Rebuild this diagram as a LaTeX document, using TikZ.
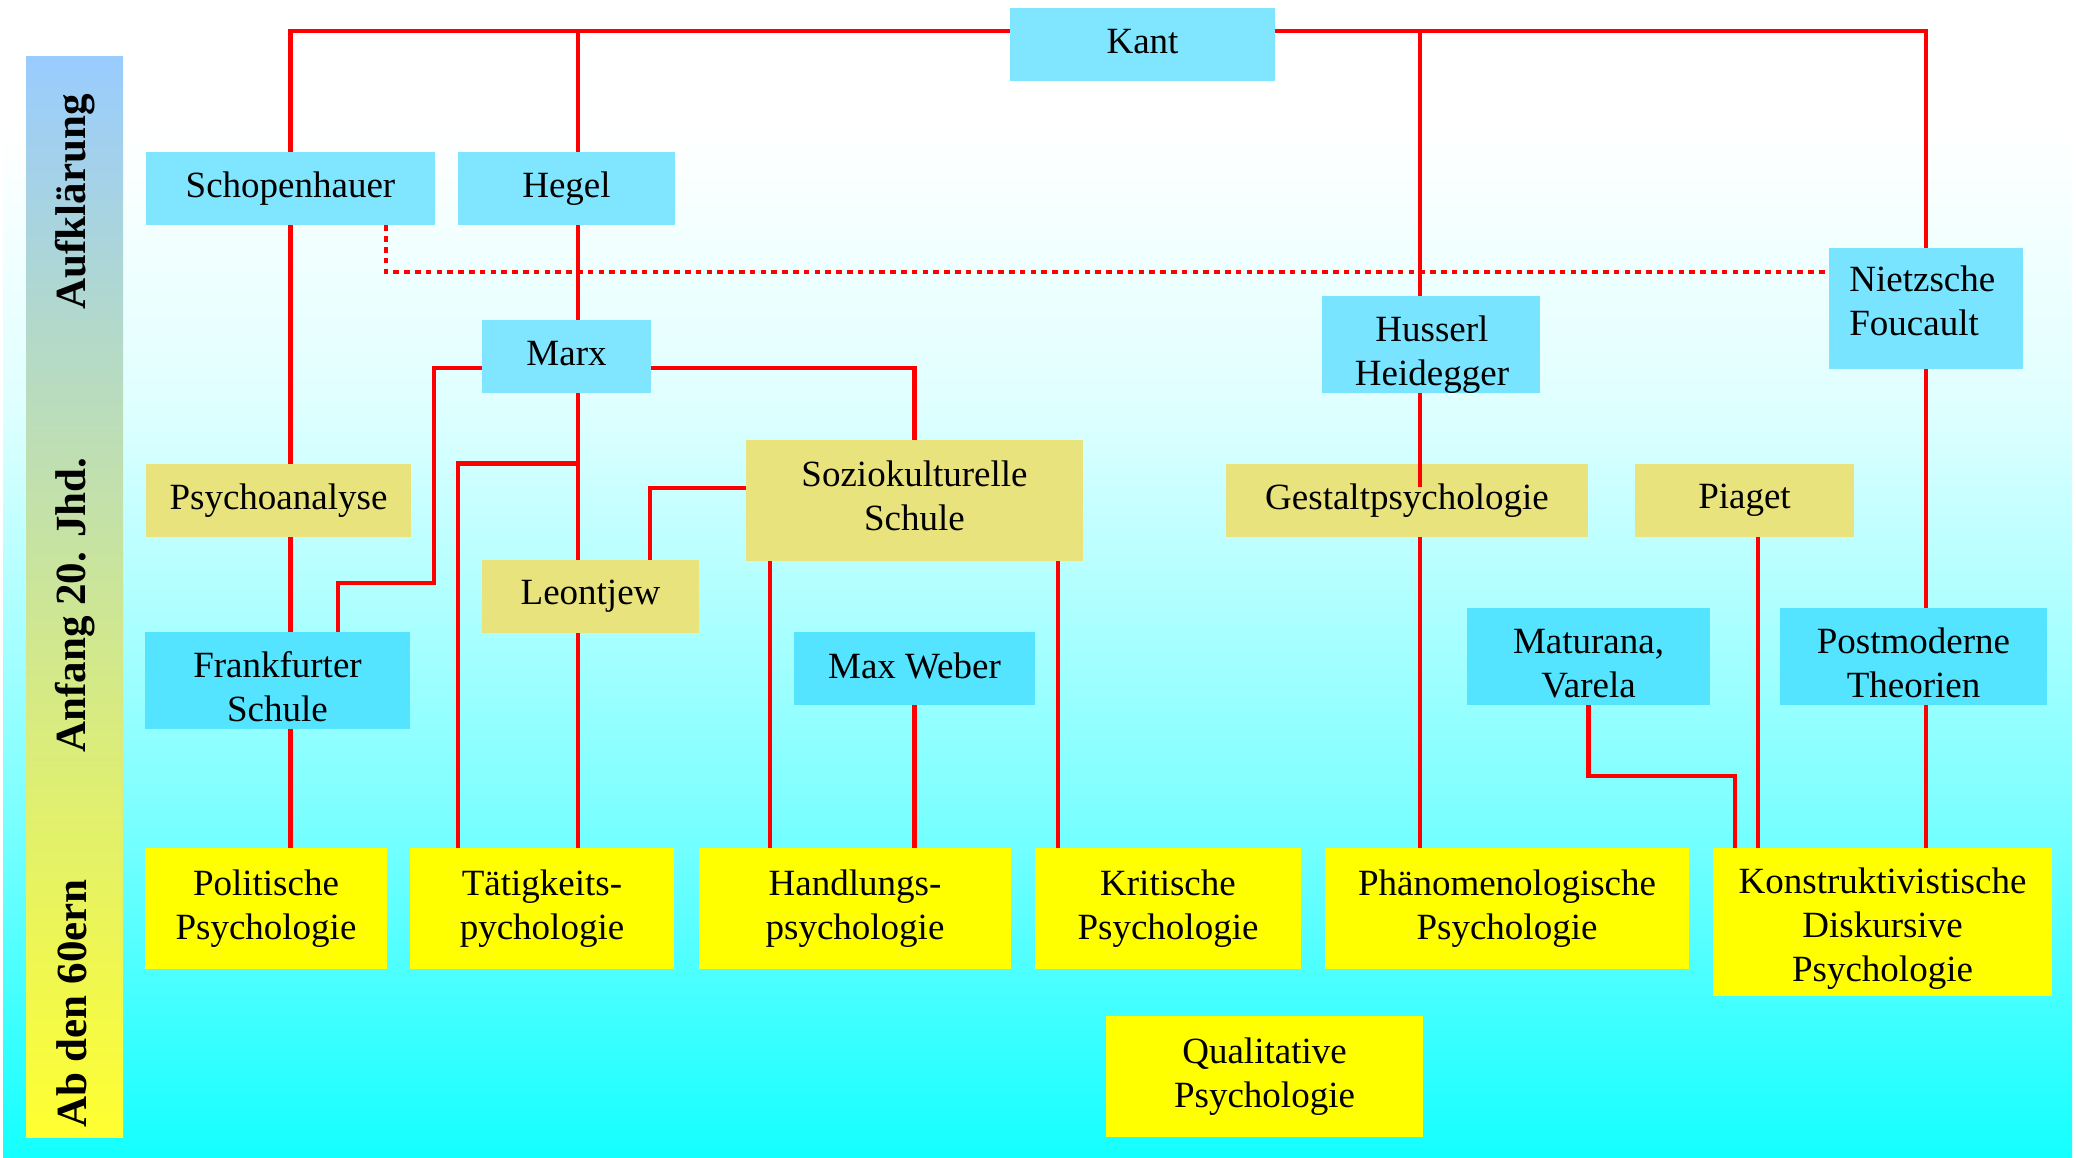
\documentclass[tikz,border=0pt]{standalone}
\usepackage{fontspec}
\setmainfont{Liberation Serif}
\usetikzlibrary{calc}
\pgfdeclarelayer{bg}
\pgfdeclarelayer{lines}
\pgfsetlayers{bg,lines,main}
\definecolor{cyanA}{HTML}{80E5FF}
\definecolor{cyanH}{HTML}{78E4FF}
\definecolor{cyanB}{HTML}{55E4FF}
\definecolor{khaki}{HTML}{E8E37C}
\definecolor{yel}{HTML}{FFFF00}
\definecolor{redl}{HTML}{FF0000}
\tikzset{
  sz/.style 2 args={minimum width={#1*0.5pt}, minimum height={#2*0.5pt}},
  txt/.style={inner sep=0pt, align=center, font=\fontsize{18.5}{22}\selectfont},
  box/.style={rectangle, txt},
  tl/.style 2 args={label={[txt,yshift=#1]center:{#2}}},
  cA/.style={box, fill=cyanA},
  cH/.style={box, fill=cyanH},
  cB/.style={box, fill=cyanB},
  kh/.style={box, fill=khaki},
  ye/.style={box, fill=yel},
  era/.style={rotate=90, inner sep=0pt, font=\bfseries\fontsize{21.5}{25}\selectfont},
  conn/.style={draw=redl, line width=2.3pt, line join=miter},
  dotl/.style={conn, dash pattern=on 2.75pt off 2.65pt},
}
\begin{document}
\begin{tikzpicture}[x=0.5pt,y=-0.5pt]
\useasboundingbox (0,0) rectangle (2076,1157);

% nodes
\node[cA, sz={265}{73}, tl={1.5pt}{Kant}] (kant) at (1142.5,44.5) {};
\node[cA, sz={289}{73}] (schop) at (290.5,188.5) {Schopenhauer};
\node[cA, sz={217}{73}] (hegel) at (566.5,188.5) {Hegel};
\node[cA, sz={169}{73}, tl={1.25pt}{Marx}] (marx) at (566.5,356.5) {};
\node[cH, sz={218}{97}] (huss) at (1431,344.5) {};
\node[cH, sz={194}{121}] (nietz) at (1926,308.5) {};
\node[kh, sz={265}{73}] (psa) at (278.5,500.5) {Psychoanalyse};
\node[cB, sz={265}{97}, tl={-3.3pt}{Frankfurter\\Schule}] (frank) at (277.5,680.5) {};
\node[kh, sz={217}{73}] (leon) at (590.5,596.5) {Leontjew};
\node[kh, sz={337}{121}, tl={2.5pt}{Soziokulturelle\\Schule}] (sozio) at (914.5,500.5) {};
\node[cB, sz={241}{73}, tl={1.25pt}{Max Weber}] (weber) at (914.5,668.5) {};
\node[kh, sz={362}{73}] (gestalt) at (1407,500.5) {Gestaltpsychologie};
\node[kh, sz={219}{73}] (piaget) at (1744.5,500.5) {Piaget};
\node[cB, sz={243}{97}, tl={-3.4pt}{Maturana,\\Varela}] (matur) at (1588.5,656.5) {};
\node[cB, sz={267}{97}, tl={-3.2pt}{Postmoderne\\Theorien}] (postm) at (1913.5,656.5) {};
\node[ye, sz={242}{121}] (polit) at (266,908.5) {Politische\\Psychologie};
\node[ye, sz={264}{121}] (taet) at (542,908.5) {Tätigkeits-\\pychologie};
\node[ye, sz={312}{121}] (handl) at (855,908.5) {Handlungs-\\psychologie};
\node[ye, sz={266}{121}] (krit) at (1168,908.5) {Kritische\\Psychologie};
\node[ye, sz={364}{121}] (phaen) at (1507,908.5) {Phänomenologische\\Psychologie};
\node[ye, sz={339}{148}, tl={-3.2pt}{Konstruktivistische\\Diskursive\\Psychologie}] (konst) at (1882.5,922) {};
\node[ye, sz={317}{121}] (qual) at (1264.5,1076.5) {Qualitative\\Psychologie};

\begin{scope}
  \clip (huss.north west) rectangle (huss.south east);
  \node[txt] (hussT) at (1432,355) {Husserl\\Heidegger};
\end{scope}
\node[txt, align=left, anchor=west] (nietzT) at (1849,301) {Nietzsche\\Foucault};

% era labels
\node[era] (era1) at (75.5,202) {Aufklärung};
\node[era] (era2) at (75.5,605) {Anfang 20. Jhd.};
\node[era] (era3) at (72,1003.5) {Ab den 60ern};

% helper coordinates
\coordinate (topy) at (0,31);
\coordinate (hx) at (578,0);
\coordinate (ux) at (1420,0);
\coordinate (dx) at (386,0);
\coordinate (dy) at (0,272);
\coordinate (my) at (0,368);
\coordinate (mlx) at (434,0);
\coordinate (fy) at (0,583);
\coordinate (fx) at (338,0);
\coordinate (tx) at (458,0);
\coordinate (sy) at (0,488);
\coordinate (lx) at (650,0);
\coordinate (s1x) at (770,0);
\coordinate (s2x) at (1058,0);
\coordinate (px) at (1758,0);
\coordinate (kx) at (1735,0);
\coordinate (vy) at (0,776);

% background
\begin{pgfonlayer}{bg}
  \fill[white] (0,0) rectangle (2076,1157);
  \shade[top color=white, bottom color={rgb,255:red,224;green,255;blue,255}] (3,129) rectangle (2072,401);
  \shade[top color={rgb,255:red,224;green,255;blue,255}, bottom color={rgb,255:red,128;green,255;blue,255}] (3,400) rectangle (2072,801);
  \shade[top color={rgb,255:red,128;green,255;blue,255}, bottom color={rgb,255:red,20;green,255;blue,255}] (3,800) rectangle (2072,1157);
  \shade[top color={rgb,255:red,153;green,204;blue,255}, middle color={rgb,255:red,211;green,228;blue,178}, bottom color={rgb,255:red,255;green,255;blue,48}] (26,56) rectangle (123,1137);
\end{pgfonlayer}

% connectors
\begin{pgfonlayer}{lines}
  \draw[conn] (schop.north) |- (kant.west |- topy);
  \draw[conn] (schop.south) -- (schop.south |- polit.north);
  \draw[conn] (hx |- topy) -- (hx |- taet.north);
  \draw[conn] (kant.east |- topy) -| (nietz.north);
  \draw[conn] (nietz.south) -- (nietz.south |- konst.north);
  \draw[conn] (ux |- topy) -- (ux |- huss.north);
  \draw[conn] (ux |- gestalt.south) -- (ux |- phaen.north);
  \draw[dotl] (dx |- schop.south) |- (nietz.west |- dy);
  \draw[conn] (marx.west |- my) -| (mlx |- fy) -| (fx |- frank.north);
  \draw[conn] (marx.east |- my) -| (sozio.north);
  \draw[conn] (hx |- psa.north) -| (tx |- taet.north);
  \draw[conn] (sozio.west |- sy) -| (lx |- leon.north);
  \draw[conn] (s1x |- sozio.south) -- (s1x |- handl.north);
  \draw[conn] (s2x |- sozio.south) -- (s2x |- krit.north);
  \draw[conn] (weber.south) -- (weber.south |- handl.north);
  \draw[conn] (px |- piaget.south) -- (px |- konst.north);
  \draw[conn] (matur.south) -- (matur.south |- vy) -| (kx |- konst.north);
\end{pgfonlayer}
\draw[conn] (ux |- huss.south) -- ($(ux |- gestalt.north)+(0,23)$);
\end{tikzpicture}
\end{document}
